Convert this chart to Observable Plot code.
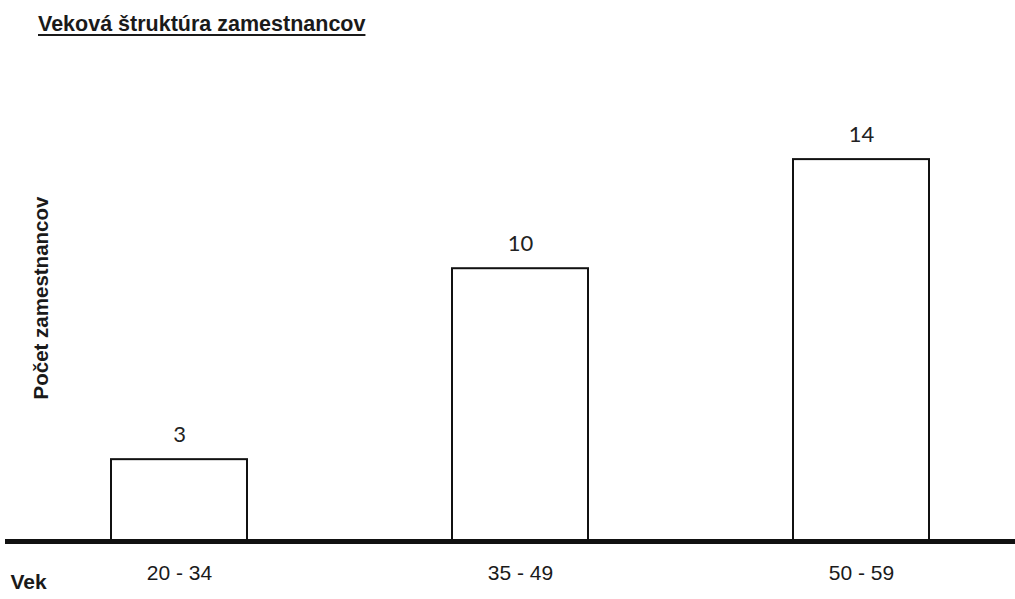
<!DOCTYPE html>
<html>
<head>
<meta charset="utf-8">
<script src="https://cdn.jsdelivr.net/npm/d3@7"></script>
<script src="https://cdn.jsdelivr.net/npm/@observablehq/plot@0.6"></script>
<style>
  html, body { margin: 0; padding: 0; background: #fff; }
  #title-box { position: relative; width: 1015px; height: 50px; }
  #title {
    position: absolute; left: 38px; top: 14px;
    font-family: "Liberation Sans", Arial, sans-serif; font-weight: bold;
    font-size: 21.5px; line-height: 20px; color: #1a1a1a;
    text-decoration: underline; text-decoration-thickness: 2px; text-underline-offset: 3px;
    white-space: nowrap;
  }
  #chart svg { display: block; }
</style>
</head>
<body>
<div id="title-box"><span id="title">Veková štruktúra zamestnancov</span></div>
<div id="chart"></div>
<script>
const categories = ["20 - 34", "35 - 49", "50 - 59"];
const counts = [3, 10, 14];
const yLabel = "Počet zamestnancov";
const xLabel = "Vek";

const data = categories.map((c, i) => ({age: c, count: counts[i]}));

const chart = Plot.plot({
  width: 1015,
  height: 549,
  marginLeft: 5,
  marginRight: 0,
  marginTop: 0,
  marginBottom: 58,
  style: {fontFamily: "Liberation Sans, Arial, sans-serif", color: "#1a1a1a", background: "#fff"},
  x: {domain: categories, range: [60, 980], paddingInner: 0.6, paddingOuter: 0.146, label: null},
  y: {domain: [0, 18], range: [491, 0], axis: null},
  marks: [
    Plot.barY(data, {x: "age", y: "count", fill: "#fff", stroke: "#111", strokeWidth: 2}),
    Plot.text(data, {x: "age", y: "count", text: d => String(d.count), dy: -25,
      fontSize: 22, fontFamily: "Lato, 'Open Sans', sans-serif", fill: "#222"}),
    Plot.ruleY([0], {stroke: "#111", strokeWidth: 5}),
    Plot.axisX({tickSize: 0, tickPadding: 24, fontSize: 21, label: null, fill: "#1a1a1a"}),
    Plot.text([yLabel], {frameAnchor: "left", textAnchor: "middle", rotate: -90, dx: 36, dy: 2,
      fontSize: 20.5, fontWeight: "bold", fill: "#1a1a1a"}),
    Plot.text([xLabel], {frameAnchor: "bottom-left", textAnchor: "start", dx: 5, dy: 47,
      fontSize: 21, fontWeight: "bold", fill: "#1a1a1a"})
  ]
});
document.getElementById("chart").appendChild(chart);
</script>
</body>
</html>
